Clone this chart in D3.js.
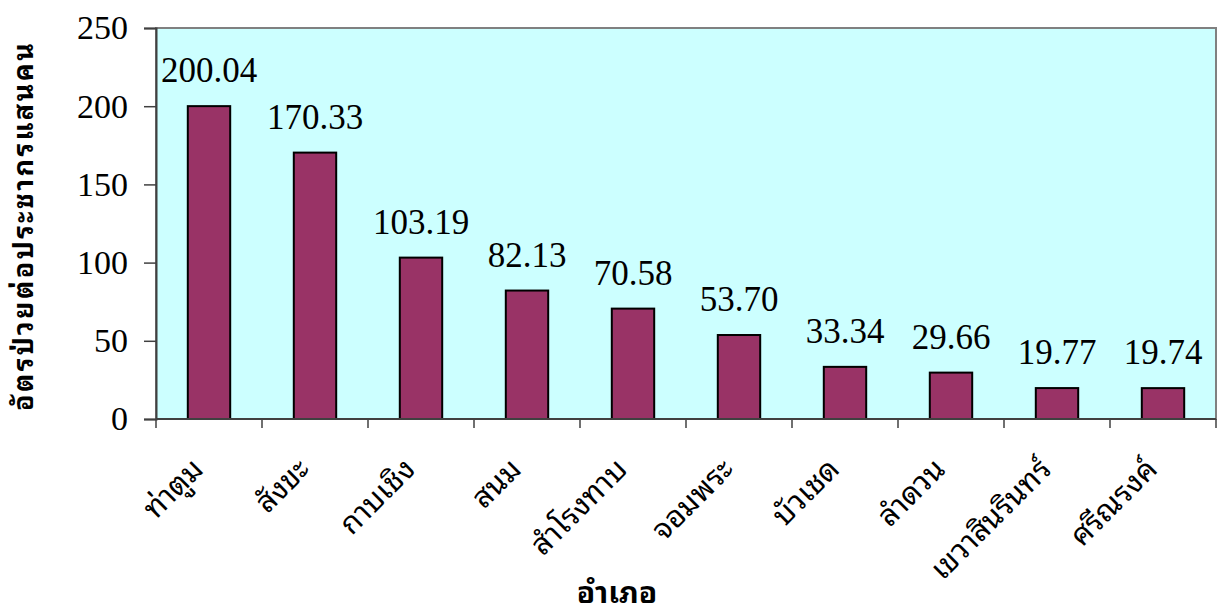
<!DOCTYPE html>
<html>
<head>
<meta charset="utf-8">
<script src="https://cdn.jsdelivr.net/npm/d3@7"></script>
<style>
  html, body { margin: 0; padding: 0; background: #ffffff; }
  svg { display: block; }
  .num { font-family: "Liberation Serif", "Times New Roman", "DejaVu Serif", serif; }
  .thai { font-family: Tahoma, "Noto Sans Thai Looped", "Noto Sans Thai", "Noto Sans", sans-serif; }
</style>
</head>
<body>
<svg id="chart" width="1218" height="615"></svg>
<script>
// District names (อำเภอ) and incidence rate per 100,000 population
const districts = ["ท่าตูม", "สังขะ", "กาบเชิง", "สนม", "สำโรงทาบ", "จอมพระ", "บัวเชด", "ลำดวน", "เขวาสินรินทร์", "ศรีณรงค์"];
const rates = [200.04, 170.33, 103.19, 82.13, 70.58, 53.70, 33.34, 29.66, 19.77, 19.74];
const yTicks = [0, 50, 100, 150, 200, 250];
const yTitle = "อัตรป่วยต่อประชากรแสนคน";
const xTitle = "อำเภอ";

const svg = d3.select("#chart");
const plot = { left: 156, top: 28, right: 1216, bottom: 419 };

const x = d3.scaleBand()
  .domain(districts)
  .range([plot.left, plot.right])
  .paddingInner(0)
  .paddingOuter(0);

const y = d3.scaleLinear()
  .domain([0, 250])
  .range([plot.bottom, plot.top]);

// plot background
svg.append("rect")
  .attr("x", plot.left).attr("y", plot.top)
  .attr("width", plot.right - plot.left).attr("height", plot.bottom - plot.top)
  .attr("fill", "#CCFFFF")
  .attr("stroke", "#808080").attr("stroke-width", 2);

// bars
const barW = x.bandwidth() * 0.4;
svg.append("g").selectAll("rect")
  .data(districts)
  .join("rect")
  .attr("x", d => x(d) + (x.bandwidth() - barW) / 2)
  .attr("y", (d, i) => y(rates[i]))
  .attr("width", barW)
  .attr("height", (d, i) => y(0) - y(rates[i]))
  .attr("fill", "#993366")
  .attr("stroke", "#000000")
  .attr("stroke-width", 2);

// value labels
svg.append("g").selectAll("text")
  .data(districts)
  .join("text")
  .attr("class", "num")
  .attr("x", d => x(d) + x.bandwidth() / 2)
  .attr("y", (d, i) => y(rates[i]) - 24)
  .attr("text-anchor", "middle")
  .style("font-size", "35px")
  .attr("fill", "#000")
  .text((d, i) => rates[i].toFixed(2));

// y axis
const yAxis = svg.append("g")
  .attr("transform", `translate(${plot.left},0)`)
  .call(d3.axisLeft(y).tickValues(yTicks).tickSize(12).tickPadding(16).tickFormat(d3.format("d")));
yAxis.attr("font-family", null).attr("font-size", null);
yAxis.select(".domain").attr("stroke", "#404040").attr("stroke-width", 2);
yAxis.selectAll(".tick line").attr("stroke", "#404040").attr("stroke-width", 1.5);
yAxis.selectAll(".tick text")
  .attr("class", "num")
  .style("font-size", "34px")
  .attr("fill", "#000");

// x axis: ticks at category boundaries
const boundaries = districts.map(d => x(d)).concat([plot.right]);
const xAxisG = svg.append("g");
xAxisG.append("line")
  .attr("x1", plot.left).attr("x2", plot.right)
  .attr("y1", plot.bottom).attr("y2", plot.bottom)
  .attr("stroke", "#404040").attr("stroke-width", 2);
xAxisG.selectAll("line.tk")
  .data(boundaries)
  .join("line")
  .attr("class", "tk")
  .attr("x1", d => d).attr("x2", d => d)
  .attr("y1", plot.bottom).attr("y2", plot.bottom + 9)
  .attr("stroke", "#404040").attr("stroke-width", 1.5);

// category labels rotated 45°
xAxisG.selectAll("text")
  .data(districts)
  .join("text")
  .attr("class", "thai")
  .attr("transform", d => `translate(${x(d) + x.bandwidth() / 2 - 4},${plot.bottom + 52}) rotate(-45)`)
  .attr("text-anchor", "end")
  .style("font-size", "30px")
  .attr("fill", "#000")
  .text(d => d);

// axis titles
svg.append("text")
  .attr("class", "thai")
  .attr("transform", `translate(33,227) rotate(-90)`)
  .attr("text-anchor", "middle")
  .attr("textLength", 368)
  .attr("lengthAdjust", "spacing")
  .style("font-weight", "bold")
  .style("font-size", "27px")
  .attr("fill", "#000")
  .text(yTitle);

svg.append("text")
  .attr("class", "thai")
  .attr("x", 617)
  .attr("y", 603)
  .attr("text-anchor", "middle")
  .style("font-weight", "bold")
  .style("font-size", "30px")
  .attr("fill", "#000")
  .text(xTitle);
</script>
</body>
</html>
